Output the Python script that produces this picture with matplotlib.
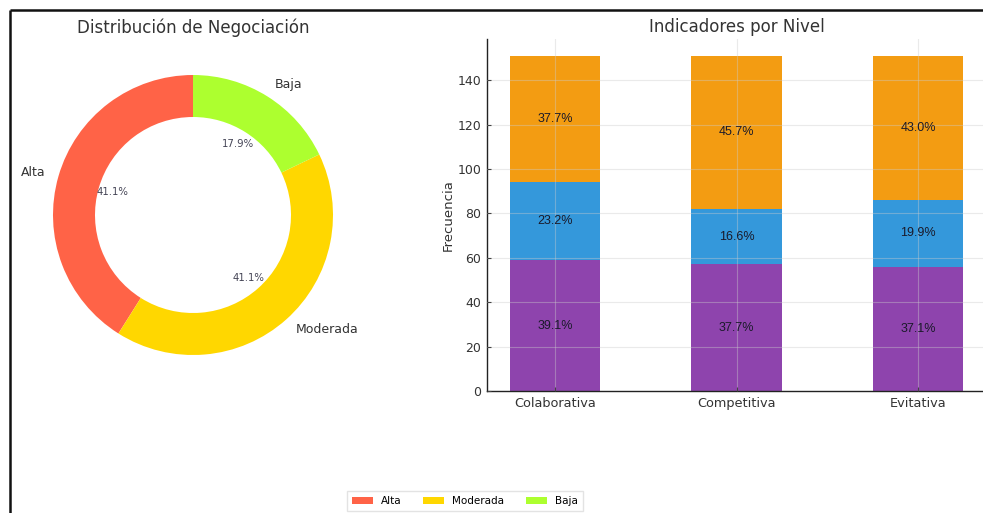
import numpy as np
import matplotlib
matplotlib.use("Agg")
from matplotlib import pyplot as plt
from matplotlib.lines import Line2D

# negotiation level counts (donut)
niveles = ['Alta', 'Moderada', 'Baja']
niveles_n = [62, 62, 27]
niveles_colors = ['#FF6347', '#FFD700', '#ADFF2F']

# indicator counts per style (stacked bars)
estilos = ['Colaborativa', 'Competitiva', 'Evitativa']
bajo = [59, 57, 56]
medio = [35, 25, 30]
alto = [57, 69, 65]
bar_colors = ['#8E44AD', '#3498DB', '#F39C12']

W, H = 983, 513


def rect(x0, y0, x1, y1):
    # pixel box (top-left origin) -> figure fraction [l, b, w, h]
    return [x0 / W, 1 - y1 / H, (x1 - x0) / W, (y1 - y0) / H]


def main():
    fig = plt.figure(figsize=(W / 100, H / 100), dpi=100)
    fig.patch.set_facecolor('white')

    # donut
    ax1 = fig.add_axes(rect(18, 40, 368, 390))
    wedges, texts, autotexts = ax1.pie(
        niveles_n, labels=niveles, colors=niveles_colors, startangle=90,
        autopct='%1.1f%%', wedgeprops=dict(width=0.3),
        textprops=dict(fontsize=9, color='#333333'))
    for t in autotexts:
        t.set_fontsize(7.3)
        t.set_color('#444455')
    ax1.set_xlim(-1.25, 1.25)
    ax1.set_ylim(-1.25, 1.25)
    ax1.set_aspect('auto')
    ax1.set_title('Distribución de Negociación', fontsize=12, color='#333333', pad=5)

    # stacked bars
    ax2 = fig.add_axes(rect(487, 39, 986, 391))
    x = np.arange(len(estilos))
    totals = np.array(bajo) + np.array(medio) + np.array(alto)
    bottoms = np.zeros(len(estilos))
    for serie, col in zip([bajo, medio, alto], bar_colors):
        vals = np.array(serie, dtype=float)
        ax2.bar(x, vals, 0.5, bottom=bottoms, color=col, zorder=1)
        for xi, b, v, tot in zip(x, bottoms, vals, totals):
            ax2.text(xi, b + v / 2, f'{v / tot * 100:.1f}%', ha='center', va='center',
                     fontsize=9, color='#1a1a2a', family=['Liberation Sans Narrow', 'Liberation Sans'],
                     zorder=3)
        bottoms += vals
    ax2.set_xlim(-0.375, 2.375)
    ax2.set_ylim(0, 158.55)
    ax2.set_yticks(np.arange(0, 141, 20))
    ax2.set_xticks(x)
    ax2.set_xticklabels(estilos)
    ax2.grid(True, color='#cccccc', linewidth=0.8, alpha=0.4, zorder=2)
    ax2.set_axisbelow(False)
    for s in ['top', 'right']:
        ax2.spines[s].set_visible(False)
    for s in ['left', 'bottom']:
        ax2.spines[s].set_color('#222222')
        ax2.spines[s].set_linewidth(1.0)
    ax2.tick_params(direction='in', length=3, labelsize=9, labelcolor='#333333', color='#444444', pad=4)
    ax2.tick_params(axis='x', labelsize=9.3)
    ax2.set_ylabel('Frecuencia', fontsize=9.5, color='#333333', labelpad=2)
    ax2.set_title('Indicadores por Nivel', fontsize=12, color='#333333', pad=5)

    # legend for the donut
    fig.legend(wedges, niveles, loc='center', bbox_to_anchor=(465 / W, 1 - 501 / H), ncol=3,
               fontsize=7.5, frameon=True, handlelength=2.0, handleheight=0.7,
               handletextpad=0.77, columnspacing=2.1, borderpad=0.5, borderaxespad=0,
               fancybox=False, edgecolor='#dddddd')

    # page frame
    fig.add_artist(Line2D([10 / W, 10 / W], [0, 1 - 10 / H], color='#111111', linewidth=1.8,
                          solid_capstyle='butt', transform=fig.transFigure))
    fig.add_artist(Line2D([10 / W, 1], [1 - 10 / H, 1 - 10 / H], color='#111111', linewidth=1.8,
                          solid_capstyle='butt', transform=fig.transFigure))

    fig.savefig('out.png', dpi=100, facecolor='white')


if __name__ == "__main__":
    main()
